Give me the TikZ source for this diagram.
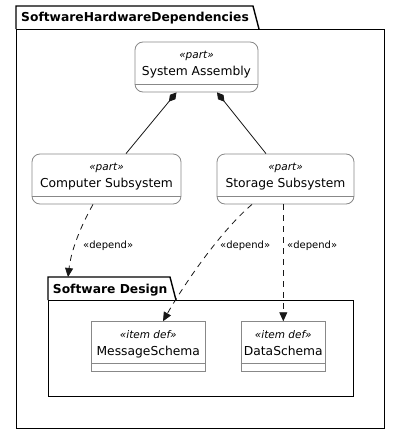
\documentclass[tikz,border=0pt]{standalone}
\usepackage{fontspec}
\setmainfont{DejaVu Sans}
\usetikzlibrary{calc,arrows.meta}
\definecolor{boxgray}{HTML}{888888}
\definecolor{linedark}{HTML}{181818}
\tikzset{
 pkgline/.style = {draw=black, line width=1.4pt},
 pkgframe/.style = {pkgline, anchor=north west, inner sep=0pt},
 partbox/.style = {draw=boxgray, line width=0.8pt, rounded corners=8pt, inner sep=0pt, minimum height=50pt},
 itembox/.style = {draw=boxgray, line width=0.8pt, inner sep=0pt, minimum height=49.3pt},
 sepline/.style = {draw=boxgray, line width=0.8pt},
 stereotxt/.style = {anchor=base, inner sep=0pt, font=\fontsize{10.5}{12}\selectfont\itshape},
 nametxt/.style = {anchor=base, inner sep=0pt, font=\fontsize{12.3}{14}\selectfont},
 pkgtxt/.style = {anchor=base west, inner sep=0pt, font=\fontsize{12.3}{14}\selectfont\bfseries},
 deptxt/.style = {anchor=base west, inner sep=0pt, font=\fontsize{10}{12}\selectfont},
 compose/.style = {draw=linedark, line width=0.8pt, -{Diamond[length=12pt,width=7pt]}},
 depend/.style = {draw=linedark, line width=0.8pt, dash pattern=on 6pt off 5pt, -{Triangle[length=9pt,width=8pt]}}
}
% box with stereotype, name and an empty compartment
\newcommand{\partBlock}[6][partbox]{
    \node[#1, minimum width=#4] (#2) at (#3) {};
    \draw[sepline] ($(#2.south west)+(0,-8)$) -- ($(#2.south east)+(0,-8)$);
    \node[stereotxt] (#2_st) at ($(#2.north)+(0,17)$) {#5};
    \node[nametxt] (#2_nm) at ($(#2.north)+(0,34)$) {#6};
}
% package frame with its tab
\newcommand{\pkgTab}[3]{
    \draw[pkgline] (#1.north west) -- ++(0,-23) -- ++(#2,0) -- ($(#1.north west)+(#3,0)$);
}

\begin{document}
\begin{tikzpicture}[x=1pt, y=-1pt]
    \fill[white] (0,0) rectangle (400,434);
    \useasboundingbox (0,0) rectangle (400,434);

    \node[pkgframe, minimum width=368pt, minimum height=399pt] (shd) at (16,29) {};
    \pkgTab{shd}{237}{243}
    \node[pkgtxt] (shd_title) at (21,21.7) {SoftwareHardwareDependencies};

    \node[pkgframe, minimum width=305pt, minimum height=96pt] (swd) at (48,300) {};
    \pkgTab{swd}{122}{128}
    \node[pkgtxt] (swd_title) at (52.7,293.3) {Software Design};

    \partBlock{sysasm}{196.5,67}{123pt}{«part»}{System Assembly}
    \partBlock{compsub}{106.5,179}{149pt}{«part»}{Computer Subsystem}
    \partBlock{storsub}{285.5,179}{137pt}{«part»}{Storage Subsystem}
    \partBlock[itembox]{msgschema}{148.3,346.3}{113.3pt}{«item def»}{MessageSchema}
    \partBlock[itembox]{dataschema}{283.3,346.3}{84.7pt}{«item def»}{DataSchema}

    \draw[compose] ($(compsub.north)+(19.5,0)$) -- ($(sysasm.south)+(-20,0)$);
    \draw[compose] ($(storsub.north)+(-19.5,0)$) -- ($(sysasm.south)+(20.5,0)$);

    \draw[depend] ($(compsub.south)+(-13.5,0)$) .. controls +(-14,25) and +(3,-25) .. ($(swd.north west)+(20,-23)$);
    \draw[depend] ($(storsub.south)+(-33.5,0)$) .. controls +(-35,30) and +(17,-30) .. ($(msgschema.north)+(14.7,0)$);
    \draw[depend] (dataschema.north |- storsub.south) -- (dataschema.north);

    \node[deptxt] (dep_comp) at (83,248) {«depend»};
    \node[deptxt] (dep_msg) at (220,248) {«depend»};
    \node[deptxt] (dep_data) at (287,248) {«depend»};
\end{tikzpicture}
\end{document}
